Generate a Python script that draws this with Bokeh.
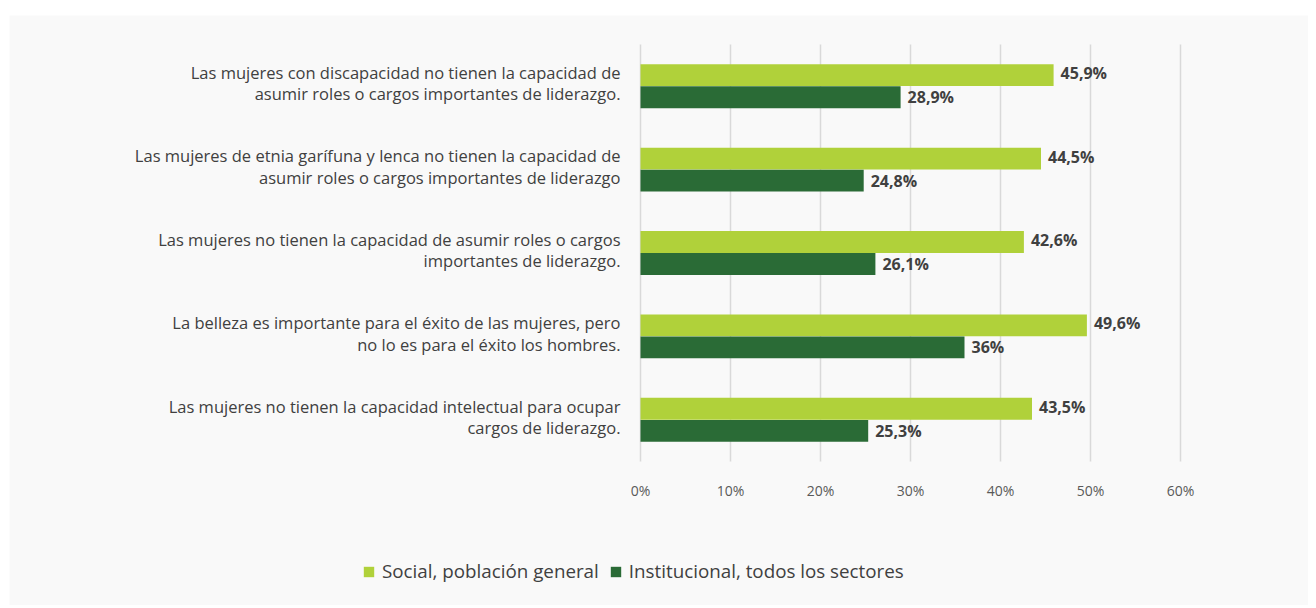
from bokeh.plotting import figure
from bokeh.models import ColumnDataSource, Range1d, FixedTicker, Legend, LegendItem, Spacer
from bokeh.core.properties import value
from bokeh.transform import dodge
from bokeh.layouts import column, row
from bokeh.embed import file_html
from bokeh.resources import INLINE

categories = [
    "Las mujeres con discapacidad no tienen la capacidad de\nasumir roles o cargos importantes de liderazgo.",
    "Las mujeres de etnia garífuna y lenca no tienen la capacidad de\nasumir roles o cargos importantes de liderazgo",
    "Las mujeres no tienen la capacidad de asumir roles o cargos\nimportantes de liderazgo.",
    "La belleza es importante para el éxito de las mujeres, pero\nno lo es para el éxito los hombres.",
    "Las mujeres no tienen la capacidad intelectual para ocupar\ncargos de liderazgo.",
]
social = [45.9, 44.5, 42.6, 49.6, 43.5]
institucional = [28.9, 24.8, 26.1, 36.0, 25.3]
social_labels = ["45,9%", "44,5%", "42,6%", "49,6%", "43,5%"]
inst_labels = ["28,9%", "24,8%", "26,1%", "36%", "25,3%"]
series_names = ["Social, población general", "Institucional, todos los sectores"]
x_ticks = [0, 10, 20, 30, 40, 50, 60]
x_tick_labels = ["0%", "10%", "20%", "30%", "40%", "50%", "60%"]

LIGHT = "#b0d13a"
DARK = "#2a6b36"
BG = "#f9f9f9"
FONT = "Open Sans"

n = len(categories)
ypos = list(range(n - 1, -1, -1))  # first category on top
src = ColumnDataSource(dict(y=ypos, cat=categories, social=social, inst=institucional,
                            slab=social_labels, ilab=inst_labels))
grid_src = ColumnDataSource(dict(x=x_ticks, y0=[-0.5] * len(x_ticks), y1=[n - 0.5] * len(x_ticks)))

# figure geometry (pixels): frame spans the whole figure
W, H = 1299, 590
x0_px, x60_px = 631, 1171          # positions of 0% and 60% inside the figure
ppu_x = (x60_px - x0_px) / 60.0
band_top_px, band_bot_px = 29, 446  # top / bottom of category area inside the figure
ppu_y = (band_bot_px - band_top_px) / n

x_range = Range1d(-x0_px / ppu_x, (W - x0_px) / ppu_x)
y_range = Range1d(-0.5 - (H - band_bot_px) / ppu_y, n - 0.5 + band_top_px / ppu_y)

p = figure(width=W, height=H, output_backend="svg", toolbar_location=None,
           x_range=x_range, y_range=y_range,
           background_fill_color=BG, border_fill_color=BG, outline_line_color=None,
           min_border=0)

p.segment(x0="x", x1="x", y0="y0", y1="y1", source=grid_src, line_color="#d9d9d9", line_width=1.5)

r1 = p.hbar(y=dodge("y", 0.132), right="social", left=0, height=0.262,
            source=src, color=LIGHT, line_color=None)
r2 = p.hbar(y=dodge("y", -0.132), right="inst", left=0, height=0.262,
            source=src, color=DARK, line_color=None)

for col, lab, off, yo in (("social", "slab", 0.132, -2), ("inst", "ilab", -0.132, 0)):
    p.text(x=col, y=dodge("y", off), text=lab, source=src,
           x_offset=7, y_offset=yo, text_align="left", text_baseline="middle", text_font=value(FONT),
           text_font_style="bold", text_font_size="16px", text_color="#404040")

# category labels
p.text(x=0, y="y", text="cat", source=src, x_offset=-20, y_offset=-3,
       text_align="right", text_baseline="middle", text_font=value(FONT),
       text_font_size="16.5px", text_color="#404040", text_line_height=0.93)

p.xgrid.grid_line_color = None
p.ygrid.grid_line_color = None
p.yaxis.visible = False

p.xaxis.fixed_location = -0.5
p.xaxis.ticker = FixedTicker(ticks=x_ticks)
p.xaxis.major_label_overrides = {t: l for t, l in zip(x_ticks, x_tick_labels)}
p.xaxis.axis_line_color = None
p.xaxis.major_tick_line_color = None
p.xaxis.minor_tick_line_color = None
p.xaxis.major_label_standoff = 13
p.xaxis.major_label_text_font = FONT
p.xaxis.major_label_text_font_size = "14px"
p.xaxis.major_label_text_color = "#595959"

legend = Legend(items=[LegendItem(label=series_names[0], renderers=[r1]),
                       LegendItem(label=series_names[1], renderers=[r2])],
                orientation="horizontal", location=(353, 21),
                background_fill_alpha=0, border_line_color=None, padding=0, margin=0,
                glyph_width=13, glyph_height=13, label_standoff=7, spacing=10,
                label_text_font=FONT, label_text_font_size="18.8px", label_text_color="#404040")
p.add_layout(legend, "center")

layout = row(Spacer(width=9), column(Spacer(height=15), p, spacing=0), spacing=0)
open("out.html", "w").write(file_html(layout, INLINE))
